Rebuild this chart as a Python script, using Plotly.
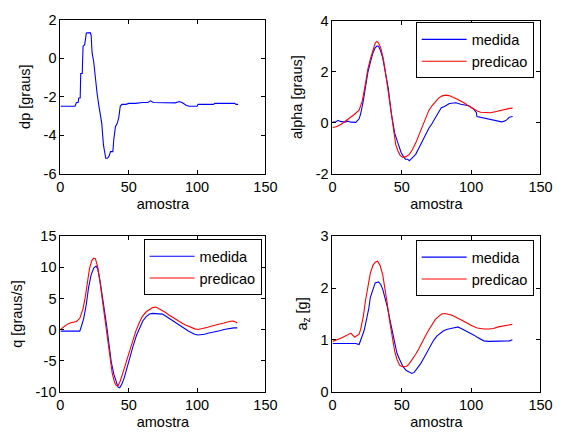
import plotly.graph_objects as go

# ---------------- data ----------------
# panel 1: dp
dp_x = [0, 10.7, 11.8, 13, 13.5, 14.5, 14.9, 16, 16.6, 17.8, 19, 21.8, 22.5, 23.2, 24.4, 25.6, 26.8,
        28, 29.1, 30.3, 31.5, 32.5, 33.2, 34.4, 35.5, 36.7, 38.4, 39.1, 40.3, 41.5, 42.7, 43.8, 45,
        48, 50, 55, 60, 64, 66, 68, 80, 84, 87, 89, 92, 94, 100, 100.7, 112, 113, 127.5, 128.5, 130]
dp_y = [-2.5, -2.5, -2.3, -2.3, -2.07, -2.07, -0.8, -0.8, 0.62, 0.7, 1.3, 1.32, 1.2, 0.28, -0.2, -1.14, -1.8,
        -2.4, -2.9, -3.4, -4.5, -4.9, -5.2, -5.2, -5.1, -4.85, -4.85, -4.2, -3.55, -3.4, -3.1, -2.5, -2.4,
        -2.4, -2.35, -2.35, -2.3, -2.3, -2.22, -2.3, -2.3, -2.32, -2.25, -2.3, -2.45, -2.5, -2.5, -2.4, -2.4,
        -2.35, -2.35, -2.4, -2.4]

# panel 2: alpha
alpha_med_x = [0, 2, 4, 5.5, 9, 11, 13.3, 16.8, 19.2, 20.3, 22.2, 23.8, 25.5, 27.3, 29.2, 30.8, 32, 33.2,
               34.3, 36.2, 37.9, 40.2, 42.5, 44.9, 47.2, 49.5, 51.2, 52.6, 54.2, 55.4, 56.6, 58.2, 60,
               62.4, 64.7, 67.1, 69.4, 71.7, 74.1, 76.4, 78.5, 81.1, 84.3, 89, 92.5, 94.8, 98.3, 101.8,
               103.7, 104.2, 106.6, 111.2, 115.9, 120.5, 122, 124, 125.6, 127.5, 129.9]
alpha_med_y = [0.02, 0.02, 0.09, 0.05, 0.02, 0.06, 0.02, 0.01, 0.15, 0.34, 0.85, 1.48, 1.97, 2.36, 2.74,
               2.93, 3.0, 2.99, 2.87, 2.55, 2.1, 1.35, 0.34, -0.42, -0.8, -1.17, -1.33, -1.43, -1.43,
               -1.49, -1.43, -1.33, -1.24, -0.98, -0.73, -0.48, -0.23, -0.04, 0.21, 0.4, 0.59, 0.64, 0.75,
               0.78, 0.72, 0.69, 0.66, 0.53, 0.40, 0.24, 0.21, 0.15, 0.09, 0.06, 0.03, 0.06, 0.11, 0.21, 0.24]
alpha_pred_x = [0, 2.8, 6.3, 8.6, 12.1, 15.7, 19.2, 21.5, 23.8, 25.5, 27.3, 29.2, 30.8, 32, 33.2, 34.8,
                36.7, 39, 41.4, 43.7, 45.6, 47.2, 48.8, 50.7, 53, 55.4, 57.7, 60, 62.4, 64.7, 67.1,
                69.4, 71.7, 74.1, 76.4, 78.7, 81.5, 84, 86, 88.1, 90.4, 92.8, 95.1, 97.4, 99.8, 102.1,
                104.4, 106.8, 110.3, 113.8, 117.3, 120.8, 124.3, 127.8, 129.9]
alpha_pred_y = [-0.19, -0.16, -0.06, 0.03, 0.15, 0.32, 0.49, 0.85, 1.54, 2.1, 2.49, 2.87, 3.12, 3.18,
                3.12, 2.93, 2.49, 1.67, 0.72, -0.29, -0.86, -1.11, -1.28, -1.36, -1.33, -1.24, -1.05,
                -0.8, -0.48, -0.16, 0.15, 0.47, 0.66, 0.82, 0.95, 1.04, 1.08, 1.06, 1.03, 0.97, 0.91,
                0.85, 0.77, 0.68, 0.6, 0.52, 0.46, 0.41, 0.39, 0.39, 0.43, 0.48, 0.52, 0.56, 0.57]

# panel 3: q
q_med_x = [0, 14.2, 15.4, 17.1, 19, 20.6, 22.5, 24.4, 26.1, 27.3, 28.9, 30.3, 32, 33.9, 35.5, 37.2, 39.1,
           40.8, 42.2, 43.4, 45, 46.7, 48.6, 50.9, 53.3, 55.7, 58.1, 60.4, 62.8, 65.2, 67.5, 69.9, 72.3,
           74.6, 77, 79.4, 81.8, 84.1, 86.5, 88.9, 91.2, 93.6, 96, 98.3, 100.7, 103.1, 105.5, 107.8,
           110.2, 112.6, 114.9, 117.3, 119.7, 122, 124.4, 126.8, 129.4]
q_med_y = [-0.26, -0.26, 0.52, 1.8, 4.1, 6.7, 8.8, 9.9, 10.2, 9.8, 8.0, 6.2, 3.4, 0.5, -2.3, -5.2, -7.2,
           -8.5, -9.3, -9.4, -8.8, -7.8, -6.2, -4.4, -2.6, -0.93, 0.41, 1.4, 2.07, 2.48, 2.59, 2.59, 2.59,
           2.48, 2.17, 1.81, 1.55, 1.14, 0.88, 0.52, 0.16, -0.26, -0.52, -0.78, -0.9, -0.88, -0.78, -0.62,
           -0.52, -0.41, -0.31, -0.16, 0.0, 0.1, 0.2, 0.26, 0.26]
q_pred_x = [0, 2.4, 4.7, 7.1, 9.5, 11.8, 14.2, 16.6, 18.2, 19.7, 21.3, 23, 24.4, 25.6, 27.3, 28.9, 30.8,
            32.7, 34.4, 36.3, 37.9, 39.6, 41, 42.2, 43.8, 45.7, 48.1, 50.5, 52.8, 55.2, 57.6, 59.9, 62.8,
            65.2, 67.5, 69.9, 72.3, 74.6, 77, 79.4, 81.8, 84.1, 86.5, 88.9, 91.2, 93.6, 96, 98.3, 100.7,
            103.1, 105.5, 107.8, 110.2, 112.6, 114.9, 117.3, 119.7, 122, 124.4, 126.8, 128.7, 129.4]
q_pred_y = [0.0, 0.41, 0.78, 1.04, 1.14, 1.29, 1.8, 3.36, 5.2, 7.8, 9.8, 11.1, 11.5, 11.4, 10.1, 7.8, 4.9,
            1.55, -1.29, -4.4, -7.0, -8.5, -9.06, -9.06, -8.3, -7.0, -5.2, -3.36, -1.8, -0.26, 1.04, 2.07,
            2.85, 3.26, 3.52, 3.62, 3.36, 3.1, 2.74, 2.33, 1.97, 1.66, 1.29, 1.04, 0.78, 0.52, 0.26, 0.1,
            0.0, 0.1, 0.26, 0.36, 0.52, 0.62, 0.78, 0.93, 1.04, 1.2, 1.33, 1.35, 1.2, 1.04]

# panel 4: a_z
az_med_x = [0, 4, 8.6, 13.3, 16.8, 19.2, 20.3, 21.5, 22.7, 23.8, 25, 26.2, 27.3, 29, 30.8, 33.2, 34.8,
            36.2, 37.9, 39.5, 41.4, 43.2, 44.9, 46.5, 48.4, 50.7, 53, 55.4, 57.2, 58.9, 61.2, 63.6, 65.9,
            68.2, 70.6, 72.9, 75.2, 77.6, 79.9, 82.2, 84.6, 86.9, 89.3, 90.4, 92.8, 95.1, 97.4, 99.8,
            102.1, 104.4, 106.8, 109.1, 112.6, 116.1, 120.8, 125.5, 127.8, 129.7]
az_med_y = [0.93, 0.93, 0.94, 0.94, 0.93, 0.91, 0.99, 1.05, 1.17, 1.3, 1.45, 1.61, 1.82, 1.98, 2.1, 2.12,
            2.07, 1.98, 1.82, 1.64, 1.39, 1.14, 0.9, 0.74, 0.62, 0.49, 0.41, 0.37, 0.35, 0.37, 0.45, 0.54,
            0.65, 0.77, 0.88, 0.99, 1.07, 1.13, 1.17, 1.2, 1.22, 1.23, 1.24, 1.25, 1.22, 1.19, 1.15, 1.12,
            1.09, 1.05, 1.01, 0.98, 0.97, 0.97, 0.97, 0.97, 0.98, 1.0]
az_pred_x = [0, 2.8, 5.1, 7.5, 9.8, 12.1, 13.3, 14.5, 16.1, 17.5, 19.2, 20.3, 22.2, 23.8, 25.5, 27.3,
             29.2, 30.8, 32.5, 34.3, 36.2, 37.9, 39.5, 41.4, 43.2, 44.9, 46.5, 48.4, 50.2, 51.9, 53.5,
             55.4, 57.7, 60, 62.4, 64.7, 67.1, 69.4, 71.7, 74.1, 76.4, 78.7, 81.1, 83.4, 85.7, 88.1, 90.4,
             92.8, 95.1, 97.4, 99.8, 102.1, 104.4, 106.8, 109.1, 112.6, 116.1, 119.6, 123.1, 126.6, 129.7]
az_pred_y = [0.97, 0.99, 1.02, 1.05, 1.08, 1.11, 1.13, 1.09, 1.05, 1.08, 1.11, 1.2, 1.45, 1.76, 2.04, 2.29,
             2.44, 2.5, 2.52, 2.44, 2.26, 2.01, 1.7, 1.33, 1.02, 0.77, 0.62, 0.51, 0.48, 0.48, 0.49, 0.54,
             0.62, 0.72, 0.83, 0.96, 1.08, 1.19, 1.3, 1.39, 1.45, 1.5, 1.51, 1.5, 1.48, 1.45, 1.42, 1.39,
             1.36, 1.32, 1.28, 1.25, 1.23, 1.22, 1.21, 1.21, 1.22, 1.25, 1.27, 1.29, 1.3]

x_ticks = [0, 50, 100, 150]
y_ticks = {
    1: [-6, -4, -2, 0, 2],
    2: [-2, 0, 2, 4],
    3: [-10, -5, 0, 5, 10, 15],
    4: [0, 1, 2, 3],
}
y_titles = {1: "dp [graus]", 2: "alpha [graus]", 3: "q [graus/s]", 4: "a<sub>z</sub> [g]"}
x_title = "amostra"
names = ["medida", "predicao"]

BLUE = "#0000ff"
RED = "#ff0000"
W, H = 569, 440

# ---------------- figure ----------------
fig = go.Figure()

def line(x, y, color, xa, ya, name=None, legend=None, show=False):
    fig.add_trace(go.Scatter(x=x, y=y, mode="lines", line=dict(color=color, width=1.1),
                             xaxis=xa, yaxis=ya, name=name, showlegend=show,
                             legend=legend))

line(dp_x, dp_y, BLUE, "x", "y")
line(alpha_med_x, alpha_med_y, BLUE, "x2", "y2", names[0], "legend", True)
line(alpha_pred_x, alpha_pred_y, RED, "x2", "y2", names[1], "legend", True)
line(q_med_x, q_med_y, BLUE, "x3", "y3", names[0], "legend2", True)
line(q_pred_x, q_pred_y, RED, "x3", "y3", names[1], "legend2", True)
line(az_med_x, az_med_y, BLUE, "x4", "y4", names[0], "legend3", True)
line(az_pred_x, az_pred_y, RED, "x4", "y4", names[1], "legend3", True)

# panel pixel boxes (left, right, top, bottom)
boxes = {1: (58, 269, 12, 172), 2: (338, 552, 13, 172), 3: (58, 269, 237, 398), 4: (338, 552, 237, 398)}

def fx(px):
    return px / W

def fy(py):
    return 1 - py / H

FONT = dict(family="Liberation Sans, Arial, sans-serif", size=14.5, color="black")
axis_common = dict(showline=True, linecolor="black", linewidth=1, mirror="ticks", ticks="inside",
                   ticklen=4, tickcolor="black", showgrid=False, zeroline=False, tickfont=FONT)

layout = dict(width=W, height=H, margin=dict(l=0, r=0, t=0, b=0), paper_bgcolor="white",
              plot_bgcolor="white", font=FONT)
for i, (l, r, t, b) in boxes.items():
    sx = "" if i == 1 else str(i)
    yt = y_ticks[i]
    layout["xaxis" + sx] = dict(axis_common, domain=[fx(l), fx(r)], range=[0, 150], tickvals=x_ticks,
                                ticktext=[str(v) for v in x_ticks], anchor="y" + sx,
                                title=dict(text=x_title, font=FONT, standoff=4))
    layout["yaxis" + sx] = dict(axis_common, domain=[fy(b), fy(t)], range=[yt[0], yt[-1]],
                                tickvals=yt, ticktext=[str(v) for v in yt], anchor="x" + sx,
                                title=dict(text=y_titles[i], font=FONT, standoff=9))

leg_common = dict(bgcolor="white", bordercolor="black", borderwidth=1, font=FONT,
                  xanchor="right", yanchor="top", tracegroupgap=0, itemwidth=45)
layout["legend"] = dict(leg_common, x=fx(545), y=fy(15))
layout["legend2"] = dict(leg_common, x=fx(265), y=fy(240))
layout["legend3"] = dict(leg_common, x=fx(545), y=fy(241))

fig.update_layout(**layout)
fig.write_html("out.html", config={"displayModeBar": False},
               post_script="document.body.style.margin='0';document.body.style.overflow='hidden';")
